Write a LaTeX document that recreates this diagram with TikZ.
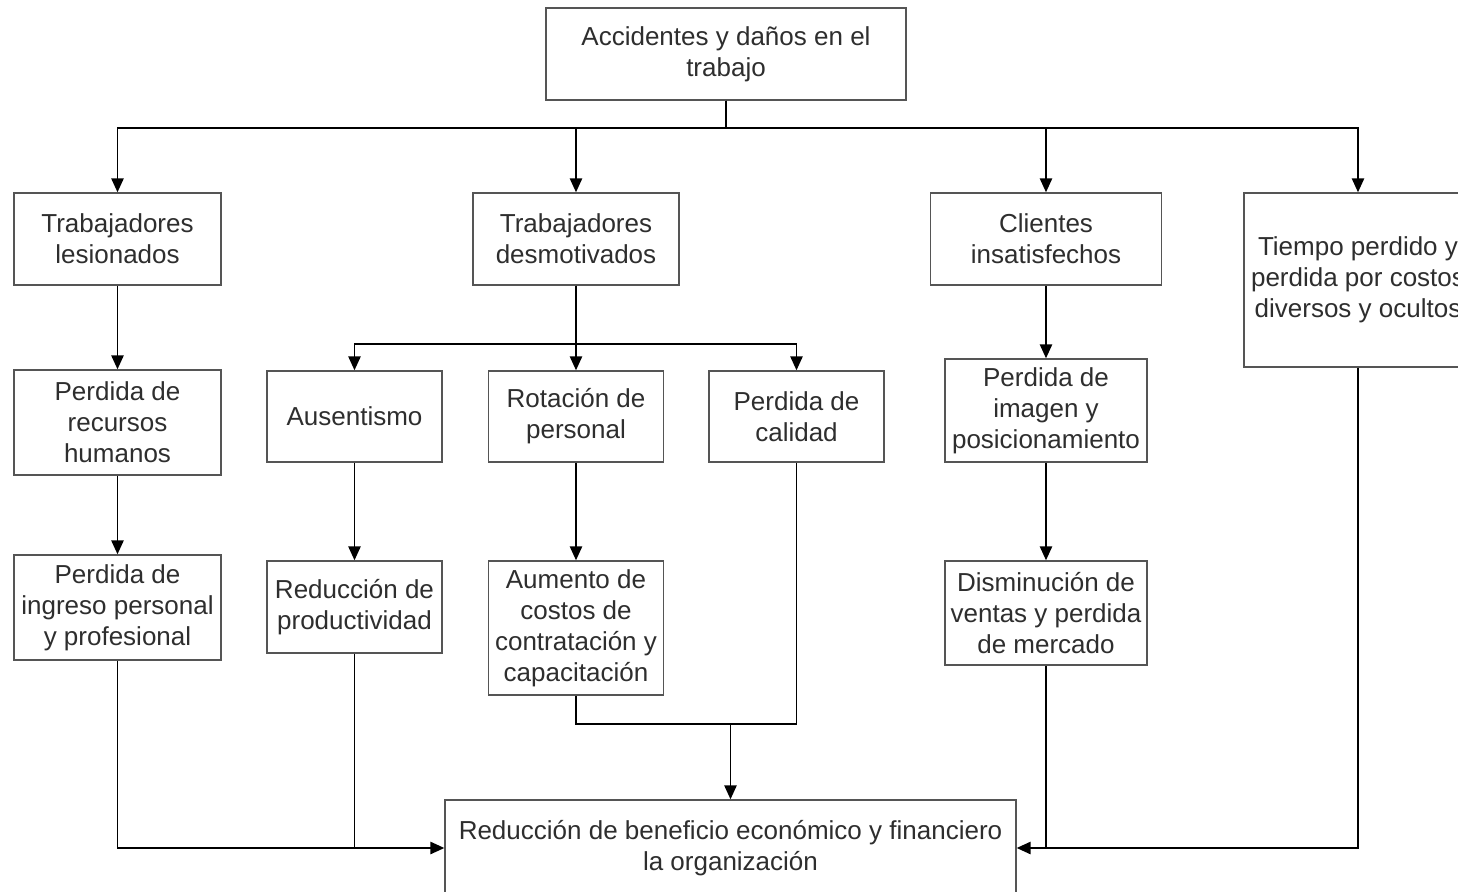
\documentclass[tikz,border=0pt]{standalone}
\usepackage{fontspec}
\setmainfont{Liberation Sans}
\usepackage{xcolor}
\usetikzlibrary{arrows.meta, calc}

\definecolor{txtgray}{HTML}{2E2E2E}
\definecolor{boxgray}{HTML}{555555}

\tikzset{
	cajon/.style = {draw = boxgray, line width = 0.8pt, fill = white, align = center,
		text = txtgray, font = \fontsize{14.8}{17.6}\selectfont, inner sep = 0pt},
	flecha/.style = {line width = 1.1pt, -{Triangle[length = 8pt, width = 7pt]}},
	linea/.style = {line width = 1.1pt}
}

\begin{document}
\begin{tikzpicture}[x = 0.02cm, y = -0.02cm]
					\def\W{1458};
					\def\H{892};

					\useasboundingbox (0,0) rectangle (\W,\H);
					\fill[white] (0,0) rectangle (\W,\H);
					\clip (0,0) rectangle (\W,\H);

					% nivel 1
					\node [cajon, minimum width = 7.2cm, minimum height = 1.84cm] (accidentes) at (726,54) {Accidentes y daños en el\\trabajo};

					% nivel 2
					\node [cajon, minimum width = 4.14cm, minimum height = 1.84cm] (lesionados) at (117.5,239) {Trabajadores\\lesionados};
					\node [cajon, minimum width = 4.12cm, minimum height = 1.84cm] (desmotivados) at (576,239) {Trabajadores\\desmotivados};
					\node [cajon, minimum width = 4.62cm, minimum height = 1.84cm] (clientes) at (1046,239) {Clientes\\insatisfechos};
					\node [cajon, minimum width = 4.56cm, minimum height = 3.48cm] (tiempo) at (1358,280) {Tiempo perdido y\\perdida por costos\\diversos y ocultos};

					% nivel 3
					\node [cajon, minimum width = 4.14cm, minimum height = 2.1cm] (recursos) at (117.5,422.5) {Perdida de\\recursos\\humanos};
					\node [cajon, minimum width = 3.5cm, minimum height = 1.82cm] (ausentismo) at (354.5,416.5) {Ausentismo};
					\node [cajon, minimum width = 3.5cm, minimum height = 1.82cm] (rotacion) at (576,416.5) {Rotación de\\personal};
					\node [cajon, minimum width = 3.5cm, minimum height = 1.82cm] (calidad) at (796.5,416.5) {Perdida de\\calidad};
					\node [cajon, minimum width = 4.04cm, minimum height = 2.06cm] (imagen) at (1046,410.5) {Perdida de\\imagen y\\posicionamiento};

					% nivel 4
					\node [cajon, minimum width = 4.14cm, minimum height = 2.1cm] (ingreso) at (117.5,607.5) {Perdida de\\ingreso personal\\y profesional};
					\node [cajon, minimum width = 3.5cm, minimum height = 1.84cm] (productividad) at (354.5,607) {Reducción de\\productividad};
					\node [cajon, minimum width = 3.5cm, minimum height = 2.68cm] (aumento) at (576,628) {Aumento de\\costos de\\contratación y\\capacitación};
					\node [cajon, minimum width = 4.04cm, minimum height = 2.08cm] (ventas) at (1046,613) {Disminución de\\ventas y perdida\\de mercado};

					% resultado
					\node [cajon, minimum width = 11.42cm, minimum height = 1.92cm] (reduccion) at (730.5,848) {Reducción de beneficio económico y financiero\\la organización};

					\coordinate (busA) at (0,128);
					\coordinate (busB) at (0,344);
					\coordinate (busC) at (0,724);

					\begin{scope}[flecha]
						\foreach \n in {lesionados, desmotivados, clientes, tiempo}
							\draw (accidentes.south) -- (accidentes.south |- busA) -| (\n.north);
						\foreach \n in {ausentismo, rotacion, calidad}
							\draw (desmotivados.south) -- (desmotivados.south |- busB) -| (\n.north);
						\draw (lesionados) -- (recursos);
						\draw (recursos) -- (ingreso);
						\draw (ausentismo) -- (productividad);
						\draw (rotacion) -- (aumento);
						\draw (clientes) -- (imagen);
						\draw (imagen) -- (ventas);
						\draw (ingreso.south) |- (reduccion.west);
						\draw (tiempo.south) |- (reduccion.east);
						\draw (reduccion.north |- busC) -- (reduccion.north);
					\end{scope}

					\begin{scope}[linea]
						\draw (productividad.south) -- (productividad.south |- reduccion.west);
						\draw (ventas.south) -- (ventas.south |- reduccion.east);
						\draw (aumento.south) -- (aumento.south |- busC) -| (calidad.south);
					\end{scope}
				\end{tikzpicture}
\end{document}
